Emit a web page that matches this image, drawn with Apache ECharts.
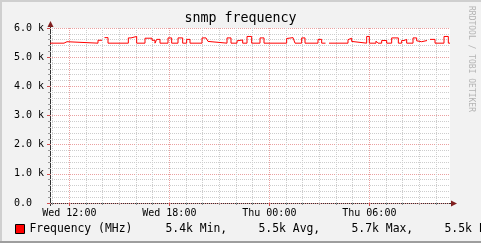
<!DOCTYPE html>
<html><head><meta charset="utf-8">
<script src="https://cdn.jsdelivr.net/npm/echarts@6/dist/echarts.min.js"></script>
<style>html,body{margin:0;padding:0;background:#F2F2F2}#c{width:481px;height:243px}</style>
</head><body><div id="c"></div>
<script>
// ---- data (hours since Wed 00:00, values in MHz) ----
const seriesName = 'Frequency (MHz)';
const times = [10.84, 11.68, 11.86, 13.72, 13.96, 13.96, 14.11, 14.32, 15.54, 15.70, 16.04, 16.54, 16.96, 17.14, 17.24, 17.44,
  17.92, 18.14, 18.52, 18.80, 19.04, 19.24, 19.96, 20.20, 20.32, 20.44, 21.46, 21.70, 22.06, 22.18, 22.40, 22.66, 22.94,
  23.44, 23.68, 25.04, 25.12, 25.42, 25.54, 25.94, 26.14, 26.92, 27.14, 27.37, 27.37, 27.58, 28.72, 28.81, 28.94, 29.02,
  29.84, 30.00, 30.40, 30.52, 30.74, 31.04, 31.34, 31.74, 31.94, 32.08, 32.24, 32.62, 32.84, 32.92, 33.14, 33.20, 33.46,
  33.46, 33.64, 33.94, 34.48, 34.74, 34.84];
const values = [5480, 5530, 5480, 5580, 5580, null, 5670, 5480, 5660, 5710, 5480, 5650, 5580, 5480, 5610, 5480,
  5660, 5480, 5660, 5480, 5610, 5480, 5660, 5600, 5540, 5480, 5660, 5480, 5560, 5590, 5480, 5710, 5480,
  5660, 5480, 5640, 5670, 5640, 5480, 5660, 5480, 5610, 5480, 5480, null, 5480, 5600, 5650, 5540, 5480,
  5710, 5480, 5550, 5480, 5570, 5480, 5660, 5480, 5570, 5610, 5480, 5660, 5560, 5530, 5480, 5570, 5570,
  null, 5610, 5480, 5710, 5480, 5480];
const xRange = [10.84, 34.84];
const xTickHours = [12, 18, 24, 30];
const xTickLabels = ['Wed 12:00', 'Wed 18:00', 'Thu 00:00', 'Thu 06:00'];
const xMinorHours = [11, 13, 14, 15, 16, 17, 19, 20, 21, 22, 23, 25, 26, 27, 28, 29, 31, 32, 33, 34];
const yRange = [0, 6000];
const yTickValues = [0, 1000, 2000, 3000, 4000, 5000, 6000];
const yTickLabels = ['0.0', '1.0 k', '2.0 k', '3.0 k', '4.0 k', '5.0 k', '6.0 k'];
const yMinorValues = [200, 400, 600, 800, 1200, 1400, 1600, 1800, 2200, 2400, 2600, 2800, 3200, 3400, 3600, 3800,
  4200, 4400, 4600, 4800, 5200, 5400, 5600, 5800];
const statValues = ['5.4k', '5.5k', '5.7k', '5.5k'];
const statNames = ['Min,', 'Avg,', 'Max,', 'Last'];
const titleText = 'snmp frequency';
const watermark = 'RRDTOOL / TOBI OETIKER';

// ---- layout ----
const W = 481, H = 243;
const GL = 50, GT = 28, GW = 400, GH = 175;
const MONO = '"DejaVu Sans Mono", "Liberation Mono", monospace';
const MINOR = '#cdcdcd', MAJOR = '#eaa0a0', AXIS = '#333333', ARROW = '#801F1F';

const chart = echarts.init(document.getElementById('c'), null, {renderer: 'canvas'});
const data = times.map((t, i) => [t, values[i]]);

const graphics = [
  // frame
  {type: 'rect', shape: {x: 0, y: 0, width: W, height: 2}, style: {fill: '#CFCFCF'}, silent: true},
  {type: 'rect', shape: {x: 0, y: 0, width: 2, height: H}, style: {fill: '#CFCFCF'}, silent: true},
  {type: 'rect', shape: {x: 0, y: H - 2, width: W, height: 2}, style: {fill: '#9E9E9E'}, silent: true},
  // axis extensions & arrows
  {type: 'line', shape: {x1: GL + 0.5, y1: GT - 2, x2: GL + 0.5, y2: GT + GH + 3}, style: {stroke: AXIS, lineWidth: 1}, silent: true},
  {type: 'line', shape: {x1: GL - 2, y1: GT + GH + 0.5, x2: GL + GW + 2, y2: GT + GH + 0.5}, style: {stroke: AXIS, lineWidth: 1}, silent: true},
  {type: 'polygon', shape: {points: [[GL + 0.5, GT - 7], [GL - 2.5, GT - 1], [GL + 3.5, GT - 1]]}, style: {fill: ARROW}, silent: true},
  {type: 'polygon', shape: {points: [[GL + GW + 7, GT + GH + 0.5], [GL + GW + 1, GT + GH - 2.5], [GL + GW + 1, GT + GH + 3.5]]}, style: {fill: ARROW}, silent: true},
  // watermark
  {type: 'text', x: 471.5, y: 59, rotation: -Math.PI / 2, silent: true,
   style: {text: watermark, font: '8px ' + MONO, fill: '#b4b4b4', align: 'center', verticalAlign: 'middle'}}
];
statValues.forEach((v, i) => {
  graphics.push({type: 'text', x: 165.5 + i * 93, y: 229, silent: true,
    style: {text: v + ' ' + statNames[i], font: '11.4px ' + MONO, fill: '#000', align: 'left', verticalAlign: 'middle'}});
});

chart.setOption({
  animation: false,
  backgroundColor: '#F2F2F2',
  title: {text: titleText, left: 'center', top: 12, padding: 0,
    textStyle: {fontFamily: MONO, fontSize: 13.3, fontWeight: 'normal', color: '#000', lineHeight: 14}},
  legend: {show: true, left: 15, top: 222, padding: 0, itemWidth: 9, itemHeight: 9, icon: 'rect',
    itemStyle: {color: '#FF0000', borderColor: '#000', borderWidth: 1},
    textStyle: {fontFamily: MONO, fontSize: 11.4, color: '#000', lineHeight: 14},
    data: [seriesName]},
  grid: {left: GL, top: GT, width: GW, height: GH, show: true, backgroundColor: '#FFFFFF', borderWidth: 0},
  xAxis: [
    {type: 'value', min: xRange[0], max: xRange[1], position: 'bottom',
     axisLine: {show: false},
     axisTick: {show: true, customValues: xMinorHours, length: 2, lineStyle: {color: '#999'}},
     axisLabel: {show: false},
     splitLine: {show: true, lineStyle: {color: MINOR, width: 1, type: [1, 1]}}},
    {type: 'value', min: xRange[0], max: xRange[1], position: 'bottom', offset: 0,
     axisLine: {show: false},
     axisTick: {show: true, customValues: xTickHours, length: 3, lineStyle: {color: '#d05050'}},
     axisLabel: {show: true, customValues: xTickHours, margin: 5, fontFamily: MONO, fontSize: 10, lineHeight: 11, color: '#000',
       formatter: v => xTickLabels[xTickHours.indexOf(v)] || ''},
     splitLine: {show: true, lineStyle: {color: MAJOR, width: 1, type: [1, 1]}}}
  ],
  yAxis: [
    {type: 'value', min: yRange[0], max: yRange[1], position: 'left',
     axisLine: {show: false},
     axisTick: {show: true, customValues: yMinorValues, length: 2, lineStyle: {color: '#999'}},
     axisLabel: {show: false},
     splitLine: {show: true, lineStyle: {color: MINOR, width: 1, type: [1, 1]}}},
    {type: 'value', min: yRange[0], max: yRange[1], position: 'left', offset: 0,
     axisLine: {show: false},
     axisTick: {show: true, customValues: yTickValues, length: 3, lineStyle: {color: '#d05050'}},
     axisLabel: {show: true, customValues: yTickValues, margin: 36, align: 'left', fontFamily: MONO, fontSize: 10, color: '#000',
       formatter: v => yTickLabels[yTickValues.indexOf(v)] || ''},
     splitLine: {show: true, lineStyle: {color: MAJOR, width: 1, type: [1, 1]}}}
  ],
  series: [{
    name: seriesName, type: 'line', xAxisIndex: 0, yAxisIndex: 0, data: data,
    step: 'end', showSymbol: false, connectNulls: false, color: '#FF0000',
    lineStyle: {color: '#FF0000', width: 1}, z: 5
  }],
  graphic: graphics
});
</script></body></html>
